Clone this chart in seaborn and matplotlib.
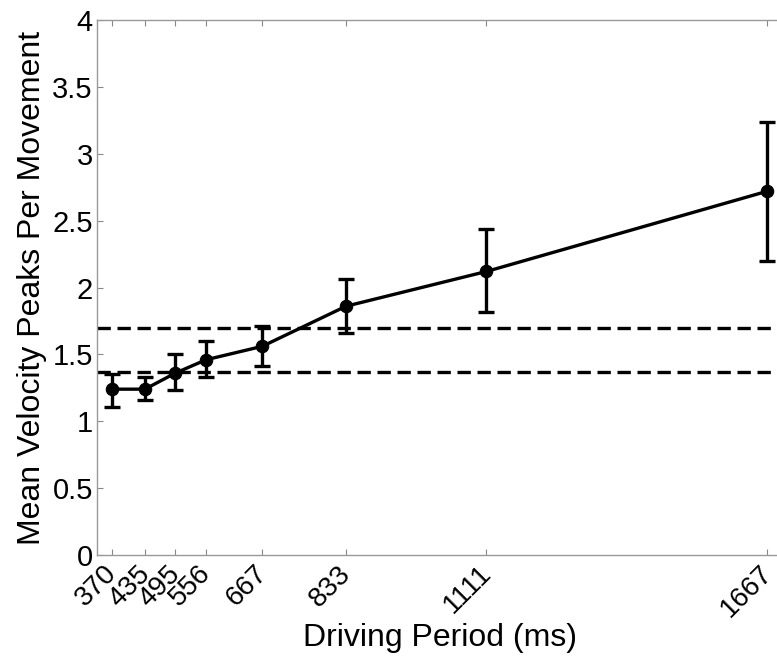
import matplotlib
matplotlib.use("Agg")
import matplotlib.pyplot as plt
import matplotlib.transforms as mtransforms
import numpy as np
import pandas as pd
import seaborn as sns

# Driving period (ms) and mean velocity peaks per movement
periods = [370, 435, 495, 556, 667, 833, 1111, 1667]
tick_labels = ["370", "435", "495", "556", "667", "833", "1111", "1667"]
mean_peaks = [1.24, 1.24, 1.36, 1.46, 1.56, 1.86, 2.12, 2.72]
err_upper = [1.35, 1.33, 1.50, 1.60, 1.71, 2.06, 2.44, 3.24]
err_lower = [1.11, 1.16, 1.23, 1.33, 1.41, 1.66, 1.82, 2.20]
ref_lines = [1.70, 1.37]
y_ticks = [0, 0.5, 1, 1.5, 2, 2.5, 3, 3.5, 4]
y_tick_labels = ["0", "0.5", "1", "1.5", "2", "2.5", "3", "3.5", "4"]

df = pd.DataFrame({"period": periods, "peaks": mean_peaks})

sns.set_theme(style="white")
plt.rcParams['font.family'] = ['Liberation Sans', 'DejaVu Sans']
plt.rcParams['text.color'] = 'black'
plt.rcParams['axes.labelcolor'] = 'black'
plt.rcParams['xtick.labelcolor'] = 'black'
plt.rcParams['ytick.labelcolor'] = 'black'

fig = plt.figure(figsize=(7.77, 6.65), dpi=100)
ax = fig.add_axes([0.1248, 0.1654, 0.8842, 0.8045])

# reference dashed lines
for yv in ref_lines:
    ax.axhline(yv, color="black", lw=2.4, ls=(0, (4, 2)), zorder=1)

yerr = np.array([np.array(mean_peaks) - np.array(err_lower),
                 np.array(err_upper) - np.array(mean_peaks)])
ax.errorbar(periods, mean_peaks, yerr=yerr, fmt="none", ecolor="black",
            elinewidth=2.4, capsize=6, capthick=2.4, zorder=2)
sns.lineplot(data=df, x="period", y="peaks", ax=ax, color="black", lw=2.4,
             marker="o", markersize=9, markeredgecolor="black", zorder=3)

ax.set_xlim(340, 1700)
ax.set_ylim(0, 4)
ax.set_xticks(periods)
ax.set_xticklabels(tick_labels, rotation=45, ha="right", rotation_mode="anchor",
                   fontsize=20)
ax.set_yticks(y_ticks)
ax.set_yticklabels(y_tick_labels, fontsize=21)

ax.tick_params(direction="in", length=4, width=0.8, color="#888888",
               top=True, right=True, bottom=True, left=True, pad=3)
ax.tick_params(axis="x", pad=4)
for sp in ax.spines.values():
    sp.set_color("#999999")
    sp.set_linewidth(1.0)

# nudge rotated x labels a little to the left
shift = mtransforms.ScaledTranslation(-6 / 72, 0, fig.dpi_scale_trans)
for lbl in ax.get_xticklabels():
    lbl.set_transform(lbl.get_transform() + shift)

ax.set_xlabel("Driving Period (ms)", fontsize=23, labelpad=0)
ax.set_ylabel("Mean Velocity Peaks Per Movement", fontsize=23, labelpad=4)

fig.savefig("out.png", dpi=100)
